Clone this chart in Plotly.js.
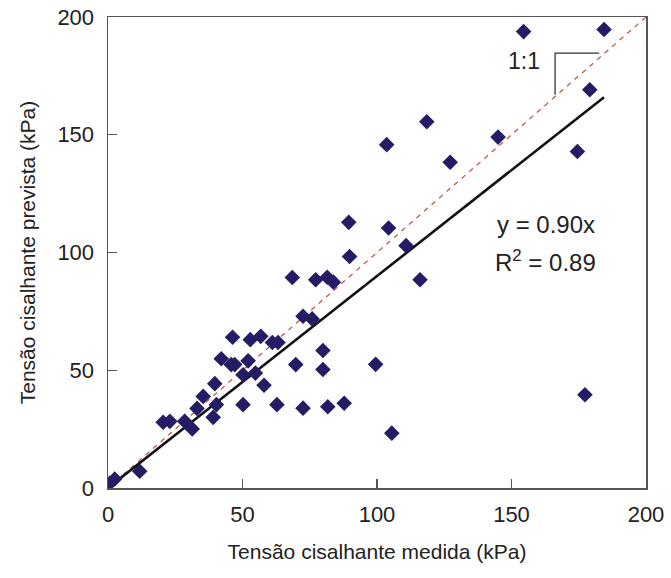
<!DOCTYPE html>
<html>
<head>
<meta charset="utf-8">
<script src="https://cdn.plot.ly/plotly-3.0.1.min.js"></script>
<style>
  html, body { margin: 0; padding: 0; background: #ffffff; }
  #chart { width: 671px; height: 578px; }
</style>
</head>
<body>
<div id="chart"></div>
<script>
// Measured vs. predicted shear stress (kPa)
const medida = [
  0.7, 2.5, 11.8, 20.5, 23.0, 28.5, 31.3, 33.1, 35.4, 39.1,
  39.7, 40.3, 42.1, 45.8, 47.1, 46.3, 50.2, 50.2, 52.1, 52.9,
  54.8, 56.8, 58.0, 61.1, 63.2, 62.8, 68.5, 69.8, 72.5, 75.9,
  72.5, 77.2, 79.9, 79.9, 81.5, 81.7, 83.8, 87.8, 89.5, 89.8,
  99.5, 103.6, 104.3, 105.5, 110.8, 116.0, 118.5, 127.2, 145.0, 154.5,
  174.5, 177.3, 179.1, 184.4
];
const prevista = [
  2.1, 3.8, 7.1, 27.9, 28.3, 28.3, 25.1, 33.8, 38.9, 30.0,
  44.3, 35.4, 54.9, 52.4, 52.4, 64.0, 48.1, 35.4, 54.0, 63.0,
  48.8, 64.4, 43.6, 61.8, 61.8, 35.4, 89.4, 52.4, 72.9, 71.8,
  33.9, 88.4, 58.4, 50.3, 89.5, 34.5, 87.4, 36.0, 112.8, 98.3,
  52.5, 145.8, 110.4, 23.3, 102.9, 88.4, 155.5, 138.3, 149.0, 193.8,
  142.9, 39.6, 169.1, 194.7
];

// Regression through the origin and the 1:1 reference
const slope = 0.90;
const r2 = 0.89;
const axisRange = [0, 200];
const tickValues = [0, 50, 100, 150, 200];

// Leader for the "1:1" label (data units)
const leaderX = [182.6, 166.2, 166.2];
const leaderY = [184.7, 184.7, 167.0];
const labelOneToOne = { text: '1:1', x: 154.7, y: 181.5 };
const eqPos = { x: 162.8, y1: 111.8, y2: 96.2 };

const xMaxData = Math.max(...medida);
const fitX = [0, xMaxData];
const fitY = fitX.map(v => slope * v);

const font = 'Liberation Sans, Arial, Helvetica, sans-serif';

const traces = [
  {
    x: axisRange, y: axisRange, mode: 'lines', hoverinfo: 'skip',
    line: { color: '#b8604f', width: 1.3, dash: '5px,5px' }
  },
  {
    x: fitX, y: fitY, mode: 'lines', hoverinfo: 'skip',
    line: { color: '#111111', width: 2.6 }
  },
  {
    x: leaderX, y: leaderY, mode: 'lines', hoverinfo: 'skip',
    line: { color: '#333333', width: 1.3 }
  },
  {
    x: medida, y: prevista, mode: 'markers',
    marker: { symbol: 'diamond', size: 12, color: '#241d66' }
  }
];

const axisCommon = {
  range: axisRange,
  tickvals: tickValues,
  ticks: 'inside',
  ticklen: 9,
  tickwidth: 1.3,
  tickcolor: '#555555',
  showline: true,
  linecolor: '#555555',
  linewidth: 1.5,
  mirror: true,
  showgrid: false,
  zeroline: false,
  tickfont: { family: font, size: 22, color: '#222222' }
};

const layout = {
  width: 671,
  height: 578,
  margin: { l: 108, r: 25, t: 17, b: 90 },
  paper_bgcolor: '#ffffff',
  plot_bgcolor: '#ffffff',
  showlegend: false,
  font: { family: font, color: '#222222' },
  xaxis: Object.assign({}, axisCommon, {
    ticklabelstandoff: 6,
    title: { text: 'Tensão cisalhante medida (kPa)', font: { family: font, size: 21, color: '#222222' }, standoff: 18 }
  }),
  yaxis: Object.assign({}, axisCommon, {
    ticklabelstandoff: 8,
    title: { text: 'Tensão cisalhante prevista (kPa)', font: { family: font, size: 21, color: '#222222' }, standoff: 16 }
  }),
  annotations: [
    {
      x: labelOneToOne.x, y: labelOneToOne.y, xref: 'x', yref: 'y',
      text: labelOneToOne.text, showarrow: false,
      font: { family: font, size: 23, color: '#222222' }
    },
    {
      x: eqPos.x, y: eqPos.y1, xref: 'x', yref: 'y',
      text: 'y = ' + slope.toFixed(2) + 'x', showarrow: false,
      font: { family: font, size: 24, color: '#222222' }
    },
    {
      x: eqPos.x, y: eqPos.y2, xref: 'x', yref: 'y',
      text: 'R<sup>2</sup> = ' + r2.toFixed(2), showarrow: false,
      font: { family: font, size: 24, color: '#222222' }
    }
  ]
};

Plotly.newPlot('chart', traces, layout, { staticPlot: true, displayModeBar: false });
</script>
</body>
</html>
